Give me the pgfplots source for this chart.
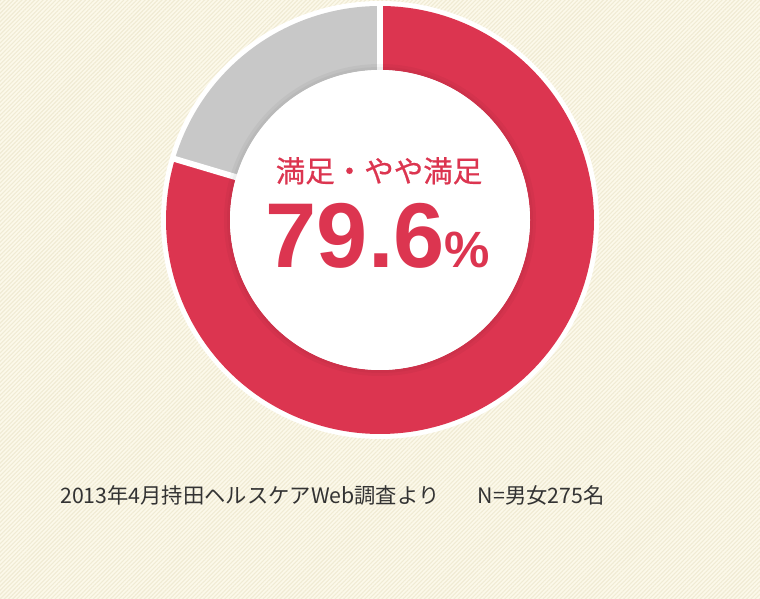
\documentclass[border=0pt]{standalone}
\usepackage{pgfplots}
\pgfplotsset{compat=1.18}
\usepackage{pgfplotstable}
\usetikzlibrary{patterns.meta}
\usepackage{fontspec}
\setmainfont{Liberation Sans}
\newfontfamily\jpfont{Noto Sans CJK JP}
\newfontfamily\jptitle[FakeBold=0.6]{Noto Sans CJK JP}

\definecolor{ringred}{HTML}{DC3550}
\definecolor{ringgray}{HTML}{C8C8C8}
\definecolor{paper}{HTML}{FCF9EA}
\definecolor{stripe}{HTML}{F0EBD4}
\definecolor{foot}{HTML}{333333}

% share of answers, in percent
\pgfplotstableread{
part value
satisfied 79.6
other 20.4
}\shares

\begin{document}
\begin{tikzpicture}
\pgfplotstablegetelem{0}{value}\of\shares
\pgfmathsetmacro{\redshare}{\pgfplotsretval}
\pgfmathsetmacro{\splitangle}{90+360*(100-\redshare)/100}
\pgfmathsetmacro{\redend}{\splitangle-360}
\begin{axis}[
    width=760pt, height=599pt, scale only axis,
    xmin=0, xmax=760, ymin=0, ymax=599,
    xtick=\empty, ytick=\empty,
    axis lines=none, clip=false
]
% background
\fill[paper] (axis cs:0,0) rectangle (axis cs:760,599);
\fill[pattern={Lines[angle=45,distance=3pt,line width=1.1pt]},pattern color=stripe]
    (axis cs:0,0) rectangle (axis cs:760,599);
% ring
\fill[white] (axis cs:380,379) circle[radius=219pt];
\fill[ringred] ([shift={(90:214pt)}]axis cs:380,379)
    arc[start angle=90, end angle=\redend, radius=214pt]
    -- ([shift={(\redend:150pt)}]axis cs:380,379)
    arc[start angle=\redend, end angle=90, radius=150pt] -- cycle;
\fill[ringgray] ([shift={(90:214pt)}]axis cs:380,379)
    arc[start angle=90, end angle=\splitangle, radius=214pt]
    -- ([shift={(\splitangle:150pt)}]axis cs:380,379)
    arc[start angle=\splitangle, end angle=90, radius=150pt] -- cycle;
\draw[white, line width=6pt] ([shift={(90:140pt)}]axis cs:380,379) -- ([shift={(90:217pt)}]axis cs:380,379);
\draw[white, line width=6pt] ([shift={(\splitangle:140pt)}]axis cs:380,379) -- ([shift={(\splitangle:217pt)}]axis cs:380,379);
\fill[black, opacity=0.035] (axis cs:380,379) circle[radius=156pt];
\fill[black, opacity=0.03] (axis cs:380,379) circle[radius=153pt];
\fill[white] (axis cs:380,379) circle[radius=150pt];
% labels
\node[anchor=base, text=ringred, inner sep=0, font=\jptitle\fontsize{29.5}{30}\selectfont]
    at (axis cs:379,417) {満足・やや満足};
\node[anchor=base, text=ringred, inner sep=0, font=\bfseries\fontsize{92}{92}\selectfont]
    at (axis cs:378,331) {79.6\fontsize{51}{51}\selectfont\%};
\node[anchor=base west, text=foot, inner sep=0, font=\jpfont\fontsize{21.3}{21.3}\selectfont]
    at (axis cs:60,95) {2013年4月持田ヘルスケアWeb調査より\hspace{1.8em}N=男女275名};
\end{axis}
\end{tikzpicture}
\end{document}
